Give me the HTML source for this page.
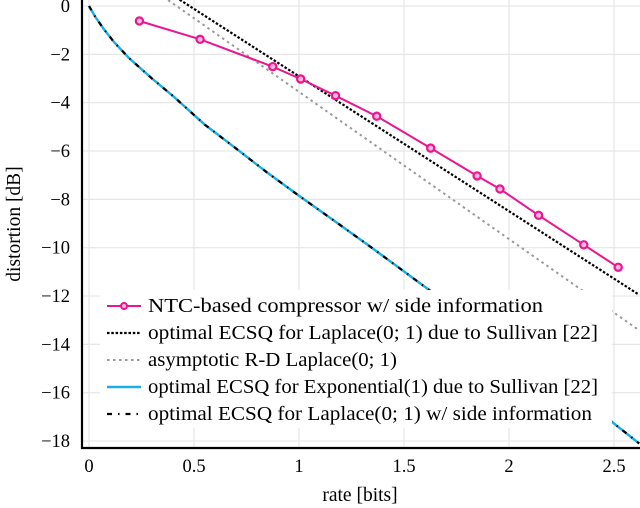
<!DOCTYPE html>
<html><head><meta charset="utf-8"><style>
body{margin:0;background:#fff}
svg{display:block;font-family:"Liberation Serif",serif}
</style></head><body>
<svg id="c" width="640" height="508"></svg>
<script>
const xTicks=[0,0.5,1,1.5,2,2.5];
const xTickLabels=["0","0.5","1","1.5","2","2.5"];
const yTicks=[0,-2,-4,-6,-8,-10,-12,-14,-16,-18];
const yTickLabels=["0","−2","−4","−6","−8","−10","−12","−14","−16","−18"];
const ntcRate=[0.24,0.529,0.875,1.008,1.174,1.37,1.627,1.848,1.957,2.141,2.356,2.52];
const ntcDist=[-0.62,-1.38,-2.51,-3.02,-3.71,-4.56,-5.88,-7.03,-7.57,-8.66,-9.88,-10.81];
const sullRate=[0.38,2.62];
const sullDist=[0.55,-11.95];
const rdRate=[0.33,2.62];
const rdDist=[0.53,-13.42];
const expRate=[0,0.03,0.07,0.12,0.19,0.3,0.41,0.55,0.71,0.85,1.0,1.17,1.34,1.62,2.0,2.3,2.62];
const expDist=[0,-0.45,-0.95,-1.5,-2.15,-3.0,-3.8,-4.9,-5.96,-6.9,-7.85,-8.9,-9.96,-11.75,-14.0,-15.9,-18.1];
const legendLabels=["NTC-based compressor w/ side information","optimal ECSQ for Laplace(0; 1) due to Sullivan [22]","asymptotic R-D Laplace(0; 1)","optimal ECSQ for Exponential(1) due to Sullivan [22]","optimal ECSQ for Laplace(0; 1) w/ side information"];
const legendWidths=[395,450,249,450,444];

const X=v=>89+210*v, Y=v=>6-24.17*v;
const svg=document.getElementById('c');
const NS='http://www.w3.org/2000/svg';
function mk(t,a,p){const e=document.createElementNS(NS,t);for(const k in a)e.setAttribute(k,a[k]);(p||svg).appendChild(e);return e;}
const clip=mk('clipPath',{id:'pc'});mk('rect',{x:82,y:0,width:558,height:448},clip);
xTicks.forEach((v,i)=>{const l=mk('line',{x1:X(v),x2:X(v),y1:0,y2:448,stroke:'#e6e6e6','stroke-width':1.2});


const t=mk('text',{x:X(v),y:472,'text-anchor':'middle','font-size':18.5});t.textContent=xTickLabels[i];

});
yTicks.forEach((v,i)=>{const l=mk('line',{x1:82,x2:640,y1:Y(v),y2:Y(v),stroke:'#e6e6e6','stroke-width':1.2});


const t=mk('text',{x:70,y:Y(v)+6,'text-anchor':'end','font-size':18.5});t.textContent=yTickLabels[i];

});
const g=mk('g',{'clip-path':'url(#pc)'});
function pts(xs,ys){return xs.map((x,i)=>X(x)+','+Y(ys[i])).join(' ');}
let e;
e=mk('polyline',{points:pts(rdRate,rdDist),fill:'none',stroke:'#999','stroke-width':2,'stroke-dasharray':'2.5 3.5'},g);


e=mk('polyline',{points:pts(sullRate,sullDist),fill:'none',stroke:'#000','stroke-width':2.2,'stroke-dasharray':'2.5 1.8'},g);


e=mk('polyline',{points:pts(expRate,expDist),fill:'none',stroke:'#1aaee6','stroke-width':2.4,'stroke-linejoin':'round'},g);


e=mk('polyline',{points:pts(expRate,expDist),fill:'none',stroke:'#000','stroke-width':2.2,'stroke-dasharray':'5 6 1.5 6'},g);


e=mk('polyline',{points:pts(ntcRate,ntcDist),fill:'none',stroke:'#ec1590','stroke-width':2},g);


ntcRate.forEach((x,i)=>{const c=mk('circle',{cx:X(x),cy:Y(ntcDist[i]),r:3.6,fill:'#f8b8dc',stroke:'#ec1590','stroke-width':2.2},g);

});
e=mk('line',{x1:82,x2:82,y1:0,y2:449,stroke:'#000','stroke-width':2.2});


e=mk('line',{x1:81,x2:640,y1:448,y2:448,stroke:'#000','stroke-width':2.2});


const lg=mk('g',{});


mk('rect',{x:100,y:290,width:512,height:138,fill:'#fff'},lg);
const styles=[{stroke:'#ec1590',w:2},{stroke:'#000',w:2.2,d:'2.5 1.8'},{stroke:'#999',w:2,d:'2.5 3.5'},{stroke:'#1aaee6',w:2.4},{stroke:'#000',w:2.2,d:'5 6 1.5 6'}];
legendLabels.forEach((s,i)=>{const y=306+27*i;const st=styles[i];
const l=mk('line',{x1:107,x2:141,y1:y,y2:y,stroke:st.stroke,'stroke-width':st.w},lg);if(st.d)l.setAttribute('stroke-dasharray',st.d);


if(i==0){mk('circle',{cx:124,cy:y,r:3,fill:'#f8b8dc',stroke:'#ec1590','stroke-width':2},lg);}
const t=mk('text',{x:148,y:y+6,'font-size':19.5,textLength:legendWidths[i],lengthAdjust:'spacingAndGlyphs'},lg);t.textContent=s;

});
e=mk('text',{x:360,y:501,'text-anchor':'middle','font-size':19.5});e.textContent='rate [bits]';


e=mk('text',{x:0,y:0,'text-anchor':'middle','font-size':19.5,transform:'translate(20,224) rotate(-90)'});e.textContent='distortion [dB]';


</script>
</body></html>
